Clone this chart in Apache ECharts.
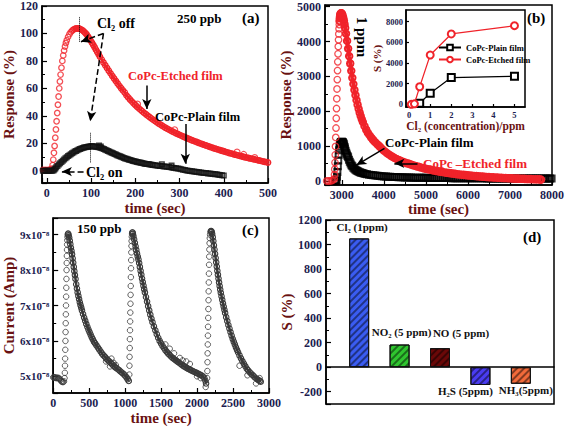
<!DOCTYPE html>
<html><head><meta charset="utf-8">
<script src="https://cdn.jsdelivr.net/npm/echarts@6/dist/echarts.min.js"></script>
<style>html,body{margin:0;padding:0;background:#fff}#c{width:567px;height:427px}</style>
</head><body><div id="c"></div>
<script>
// ---------- DATA ----------
// (a) 250 ppb response (%) vs time (sec)
const aEtchedRise = [[-9,0.5],[-6,0.3],[-3,0.5],[0,0.4],[3,0.5],[6,0.6],[9,0.8],[11,1.5],
[13,4],[14.5,8],[16,13],[17.5,18],[19,24],[20.5,30],[22,36],[23.5,42],[25,48],[26.5,54],[28,60],[29.5,65],[31,70],[33,75],[35,80],[37,84],[39,87.5],[41,90.5],[43,93],[45,95],[48,97.5],[51,99.5],[54,101],[57,102]];
const aEtchedDecay = [[60,102.8],[63,103.3],[66,103.6],[69,103.7],[72,103.6],[75,103.3],[78,102.8],[81,102.2],[84,101.3],[87,100.3],[90,99.2],[93,97.8],[96,96.3],[99,94.8],[102,93.2],[105,91.6],[108,89.9],[111,88.2],[114,86.5],[117,84.8],[120,83.1],[124,80.9],[128,78.8],[132,76.8],[136,74.8],[140,72.8],[144,70.9],[148,69],[152,67.2],[156,65.3],[160,63.5],[164,61.8],[168,60.1],[172,58.5],[176,57],[180,54.9],[184,53.4],[188,51.9],[192,50.5],[196,49.1],[200,47.8],[204,46.6],[208,45.4],[212,44.3],[216,43.2],[220,42.1],[224,41.1],[228,40.1],[232,39.1],[236,38.1],[240,37.2],[244,36.3],[248,35.4],[252,34.5],[256,33.7],[260,32.9],[264,32.1],[268,31.3],[272,30.6],[276,29.9],[280,29.2],[284,28.5],[288,27.9],[292,27.3],[296,26.7],[300,26.1],[304,25.5],[308,24.9],[312,24.3],[316,23.8],[320,23.3],[324,22.7],[328,22.2],[332,21.7],[336,21.2],[340,20.7],[344,20.2],[348,19.7],[352,19.2],[356,18.8],[360,18.3],[364,17.9],[368,17.4],[372,17],[376,16.5],[380,16.1],[384,15.7],[388,15.3],[392,14.9],[396,14.5],[400,14.1],[404,13.7],[408,13.3],[412,12.9],[416,12.6],[420,12.2],[424,11.8],[428,11.5],[432,11.1],[436,10.8],[440,10.5],[444,10.1],[448,9.8],[452,9.5],[456,9.2],[460,8.9],[464,8.6],[468,8.3],[472,8],[476,7.7],[480,7.4],[484,7.1],[488,6.8],[492,6.5],[496,6.2],[500,5.9]];
const aEtchedOutliers = [[205,48.5],[289,29.8],[430,13.5],[445,11.8],[470,9.5]];
const aPlain = [[-9,0],[-6,0],[-3,0],[0,0],[3,0],[6,0],[9,0],[12,0],[15,0.2],[17,0.8],[19,1.6],[21,2.4],[24,3.4],[27,4.4],[30,5.4],[33,6.3],[36,7.2],[39,8.1],[42,9],[45,9.8],[48,10.6],[51,11.3],[54,12],[57,12.7],[60,13.3],[63,13.9],[66,14.4],[69,14.9],[72,15.4],[75,15.8],[78,16.2],[81,16.5],[84,16.8],[87,17.1],[90,17.3],[93,17.5],[96,17.6],[99,17.7],[102,17.7],[105,17.7],[108,17.6],[111,17.5],[114,17.3],[117,17.1],[120,16.8],[123,16.5],[126,16.1],[129,15.7],[132,15.3],[135,14.9],[138,14.4],[141,14],[144,13.5],[147,13.1],[150,12.6],[153,12.2],[156,11.7],[159,11.3],[162,10.9],[165,10.5],[168,10.1],[171,9.7],[174,9.3],[177,8.9],[180,8.6],[183,8.3],[186,8],[189,7.7],[192,7.4],[195,7.1],[198,6.8],[201,6.6],[204,6.3],[207,6.1],[210,5.9],[213,5.7],[216,5.5],[219,5.3],[222,5.1],[225,4.9],[228,4.8],[231,4.6],[234,4.5],[237,4.3],[240,4.2],[244,4],[248,3.8],[252,3.6],[256,3.4],[260,3.3],[264,3.1],[268,3],[272,2.8],[276,2.6],[280,2.4],[284,2.2],[288,2],[292,1.8],[296,1.5],[300,1.3],[304,1],[308,0.7],[312,0.4],[316,0.2],[320,0],[324,-0.2],[328,-0.4],[332,-0.6],[336,-0.8],[340,-1],[344,-1.1],[348,-1.3],[352,-1.5],[356,-1.7],[360,-1.8],[364,-2],[368,-2.1],[372,-2.3],[376,-2.4],[380,-2.6],[384,-2.7],[388,-2.9],[392,-3.1],[396,-3.3],[400,-3.5],
[118,18.3],[122,17.6],[260,4.6],[282,3.8]];

// (b) 1 ppm response (%) vs time (sec)
const bPlain = [[2840,0],[2860,0],[2875,30],[2885,120],[2895,260],[2905,420],[2915,590],[2925,750],[2935,880],[2945,980],[2955,1050],[2965,1090],[2975,1110],[2985,1120],[2995,1125],[3005,1125],[3015,1120],[3025,1110],[3035,1090],[3045,1060],[3055,1020],[3065,975],[3075,930],[3090,870],[3105,810],[3120,760],[3135,718],[3150,680],[3170,610],[3190,550],[3210,500],[3230,455],[3250,420],[3275,380],[3300,350],[3325,325],[3350,303],[3375,284],[3400,268],[3430,252],[3460,238],[3490,226],[3520,215],[3560,203],[3600,193],[3650,182],[3700,172],[3750,163],[3800,155],[3850,148],[3900,142],[3950,136],
[4000,131],[4050,127],[4100,123],[4150,119],[4200,116],[4250,114],[4300,111],[4350,108],[4400,106],[4450,104],[4500,102],[4550,100],[4600,99],[4650,97],[4700,96],[4750,95],[4800,94],[4850,93],[4900,92],[4950,91],[5000,90],[5050,89],[5100,88],[5150,87],[5200,86],[5250,86],[5300,85],[5350,85],[5400,84],[5450,84],[5500,83],[5550,83],[5600,82],[5650,82],[5700,81],[5750,81],[5800,80],[5850,80],[5900,79],[5950,79],[6000,78],[6050,78],[6100,77],[6150,77],[6200,77],[6250,76],[6300,76],[6350,76],[6400,76],[6450,75],[6500,75],[6550,75],[6600,75],[6650,74],[6700,74],[6750,74],[6800,74],[6850,73],[6900,73],[6950,73],[7000,73],[7050,72],[7100,72],[7150,72],[7200,72],[7250,72],[7300,72],[7350,71],[7400,71],[7450,71],[7500,71],[7550,71],[7600,71],[7650,70],[7700,70],[7750,70],[7800,70],[7850,70],[7900,70],[7950,70],[7990,70]];
const bEtchedRise = [[2640,0],[2680,0],[2720,0],[2760,10],[2790,30],[2820,60],[2826,180],[2832,340],[2838,530],[2844,750],[2850,990],[2856,1250],[2862,1520],[2868,1800],[2874,2080],[2880,2360],[2886,2640],[2892,2910],[2898,3170],[2904,3420],[2910,3650],[2916,3860],[2922,4050],[2928,4220],[2934,4370],[2940,4490]];
const bEtchedDecay = [[2946,4590],[2952,4670],[2958,4730],[2964,4770],[2970,4795],[2978,4810],[2986,4815],[2994,4810],[3005,4790],[3020,4745],[3035,4680],[3050,4600],[3065,4500],[3080,4390],[3100,4230],[3125,4020],[3150,3800],[3175,3580],[3200,3370],[3225,3160],[3250,2960],[3275,2780],[3300,2610],[3325,2460],[3350,2320],[3375,2190],[3400,2070],[3425,1960],[3450,1860],[3475,1770],[3500,1690],[3540,1570],[3580,1470],[3620,1380],[3660,1310],[3700,1245],[3740,1185],[3780,1130],[3820,1080],[3860,1035],[3900,990],[3950,930],[4000,870],[4050,822],[4100,778],[4150,737],[4200,700],[4250,665],[4300,633],[4350,603],[4400,576],[4450,552],[4500,530],[4550,510],[4600,490],[4650,470],[4700,450],[4750,432],[4800,415],[4850,398],[4900,382],[4950,367],
[5000,352],[5050,338],[5100,325],[5150,312],[5200,300],[5250,288],[5300,277],[5350,266],[5400,256],[5450,246],[5500,237],[5550,228],[5600,219],[5650,211],[5700,203],[5750,195],[5800,188],[5850,181],[5900,175],[5950,168],[6000,162],[6050,156],[6100,151],[6150,145],[6200,140],[6250,135],[6300,130],[6350,125],[6400,121],[6450,116],[6500,112],[6550,108],[6600,104],[6650,100],[6700,97],[6750,93],[6800,90],[6850,87],[6900,84],[6950,81],[7000,78],[7050,75],[7100,73],[7150,70],[7200,68],[7250,65],[7300,63],[7350,60],[7400,58],[7450,56],[7500,54],[7550,52],[7600,50],[7650,48],[7700,46],[7740,40]];

// (b) inset: S (%) vs Cl2 concentration (ppm)
const insetConc = [0.1, 0.25, 0.5, 1, 2, 5];
const insetPlain = [null, null, 100, 1080, 2590, 2710];
const insetEtched = [0, 50, 1700, 4770, 6810, 7610];

// (c) 150 ppb current (x1e-8 A) vs time (sec)
const cRise = [[0,4.97],[10,4.98],[20,4.96],[30,4.97],[40,4.95],[50,4.96],[60,4.95],[70,4.96],[80,4.94],[90,4.93],[100,4.9],[110,4.87],[120,4.85],[130,4.84],[140,4.84],[150,4.86],[158,4.95],
[162,5.1],[164,5.3],[166,5.5],[168,5.75],[170,6.0],[172,6.25],[174,6.5],[176,6.75],[178,7.0],[180,7.25],[182,7.5],[184,7.75],[186,8.0],[188,8.2],[190,8.4],[192,8.57],[194,8.72],[196,8.84],[199,8.93],[202,8.99],[205,9.02],
[1058,5.05],[1060,5.3],[1062,5.55],[1064,5.8],[1066,6.05],[1068,6.3],[1070,6.55],[1072,6.8],[1074,7.05],[1076,7.3],[1078,7.55],[1080,7.8],[1082,8.05],[1084,8.28],[1086,8.5],[1088,8.68],[1090,8.82],[1093,8.94],[1096,9.02],
[2140,4.95],[2143,5.15],[2145,5.4],[2147,5.65],[2149,5.9],[2151,6.15],[2153,6.4],[2155,6.65],[2157,6.9],[2159,7.15],[2161,7.4],[2163,7.65],[2165,7.9],[2167,8.15],[2169,8.38],[2171,8.58],[2174,8.76],[2177,8.9],[2181,9.0],[2186,9.07],
[575,5.95],[735,5.42],[790,5.28],[810,5.5],[840,5.38],[870,5.32],
[1560,5.9],[1620,5.78],[1680,5.65],[1760,5.52],[1800,5.45],[1850,5.42],[1900,5.35],[2000,5.0],[2050,4.95],[2120,4.7],
[2590,5.3],[2700,5.03],[2820,4.8],[2870,4.95]];
const cDecay1 = [[208,9.03],[215,8.98],[222,8.92],[230,8.83],[238,8.73],[246,8.63],[254,8.54],[262,8.45],[270,8.33],[278,8.21],[286,8.09],[294,7.97],[302,7.86],[310,7.75],[320,7.6],[330,7.48],[340,7.37],[350,7.27],[360,7.18],[370,7.09],[380,7.01],[390,6.94],[400,6.86],[415,6.76],[430,6.66],[445,6.57],[460,6.48],[475,6.4],[490,6.32],[505,6.25],[520,6.18],[535,6.11],[550,6.05],[565,5.99],[580,5.94],[600,5.88],[620,5.82],[640,5.76],[660,5.7],[680,5.64],[700,5.59],[720,5.55],[740,5.5],[760,5.46],[780,5.42],[800,5.38],[820,5.34],[840,5.3],[860,5.26],[880,5.23],[900,5.2],[920,5.17],[940,5.13],[960,5.1],[980,5.06],[1000,5.02],[1020,4.97],[1035,4.92],[1050,4.87]];
const cDecay2 = [[1100,9.06],[1104,9.06],[1108,9.02],[1115,8.96],[1125,8.87],[1135,8.77],[1145,8.67],[1155,8.57],[1165,8.47],[1175,8.38],[1185,8.3],[1195,8.2],[1205,8.09],[1215,7.98],[1225,7.87],[1235,7.76],[1245,7.66],[1255,7.56],[1265,7.46],[1275,7.37],[1290,7.24],[1305,7.11],[1320,6.98],[1335,6.86],[1350,6.74],[1365,6.63],[1380,6.53],[1400,6.41],[1420,6.3],[1440,6.19],[1460,6.09],[1480,6.0],[1500,5.93],[1520,5.86],[1540,5.8],[1560,5.74],[1580,5.69],[1600,5.64],[1620,5.6],[1640,5.56],[1660,5.52],[1680,5.49],[1700,5.46],[1720,5.43],[1740,5.4],[1760,5.37],[1780,5.34],[1800,5.31],[1820,5.28],[1840,5.26],[1860,5.23],[1880,5.21],[1900,5.19],[1920,5.17],[1940,5.15],[1960,5.13],[1980,5.11],[2000,5.09],[2020,5.07],[2040,5.05],[2060,5.03],[2080,5.0],[2100,4.96],[2115,4.88],[2125,4.8]];
const cDecay3 = [[2192,9.1],[2198,9.1],[2204,9.07],[2210,9.02],[2218,8.93],[2226,8.82],[2234,8.7],[2242,8.58],[2250,8.46],[2258,8.34],[2266,8.22],[2274,8.1],[2282,7.98],[2290,7.87],[2298,7.76],[2306,7.65],[2314,7.55],[2322,7.45],[2330,7.36],[2340,7.26],[2350,7.16],[2360,7.06],[2370,6.97],[2380,6.88],[2390,6.79],[2405,6.67],[2420,6.56],[2435,6.45],[2450,6.35],[2465,6.25],[2480,6.15],[2495,6.06],[2510,5.98],[2525,5.9],[2540,5.82],[2555,5.75],[2570,5.68],[2590,5.59],[2610,5.51],[2630,5.43],[2650,5.36],[2670,5.29],[2690,5.22],[2710,5.17],[2730,5.12],[2750,5.08],[2770,5.04],[2790,5.0],[2810,4.96],[2830,4.93],[2850,4.9],[2870,4.87],[2885,4.85]];

// (d) selectivity S (%)
const dGases = ['Cl₂ (1ppm)', 'NO₂ (5 ppm)', 'NO (5 ppm)', 'H₂S (5ppm)', 'NH₃(5ppm)'];
const dPositions = [1, 2, 3, 4, 5];
const dValues = [1050, 185, 155, -145, -135];

// ---------- STYLE ----------
const FONT = '"Liberation Serif","Times New Roman",serif';
const NAVY = '#1d1d50';
const MAROON = '#6a1212';
const RED = '#f0232a';
const GREY = '#3a3a3a';
const dColors = ['#3a5cf2', '#2fc52f', '#6a0808', '#4a3cf2', '#f26a3a'];
const dLabelPos = [['top', 3, -1], ['top', 2, -2], ['top', 21, -5], ['bottom', -15, -4], ['bottom', 5, -4]];
const plainNum = v => String(v);

function vAxis(grid, min, max, split, o) {
  o = o || {};
  return {
    type: 'value', gridIndex: grid, min: min, max: max, splitNumber: split,
    name: o.name || '', nameLocation: 'middle', nameGap: o.nameGap || 20,
    nameTextStyle: { fontFamily: FONT, fontWeight: 'bold', fontSize: o.nameSize || 15, color: MAROON },
    axisLine: { show: true, onZero: !!o.onZero, lineStyle: { color: '#000', width: 1.5 } },
    axisTick: { show: o.noTicks ? false : true, inside: true, length: o.tickLen || 5, lineStyle: { color: '#000', width: 1.2 } },
    minorTick: { show: !o.noMinor && !o.noTicks, splitNumber: 2, length: 3, lineStyle: { color: '#000', width: 1 } },
    splitLine: { show: false },
    axisLabel: { show: !o.noLabels, showMinLabel: o.showMin !== false, showMaxLabel: o.showMax !== false,
      fontFamily: FONT, fontWeight: 'bold', fontSize: o.labelSize || 12, color: NAVY, margin: o.margin || 4,
      formatter: o.formatter || plainNum },
  };
}

const xAxes = [
  vAxis(0, -11, 500, 5, { name: 'time (sec)', nameGap: 17, showMin: false }),
  vAxis(1, 2600, 8000, 5, { name: 'time (sec)', nameGap: 15, showMin: false }),
  vAxis(2, 0, 3000, 6, { name: 'time (sec)', nameGap: 17 }),
  vAxis(3, 0.18, 5.82, 5, { onZero: true, noTicks: true, noLabels: true }),
  vAxis(4, -0.15, 5.5, 5, { name: 'Cl₂ (concentration)/ppm', nameGap: 8, nameSize: 11.5, labelSize: 8.5, margin: 3, tickLen: 3, noMinor: true, showMin: false, showMax: false }),
];
const yAxes = [
  vAxis(0, -9, 120, 6, { name: 'Response (%)', nameGap: 23, showMin: false }),
  vAxis(1, -115, 5050, 5, { name: 'Response (%)', nameGap: 27, showMin: false, showMax: false }),
  vAxis(2, 4.53, 9.47, 5, { name: 'Current (Amp)', nameGap: 33, showMin: false, showMax: false, labelSize: 11,
    formatter: v => Math.round(v) + 'x10⁻⁸' }),
  vAxis(3, -300, 1200, 7, { name: 'S (%)', nameGap: 26, showMin: false }),
  vAxis(4, -260, 9130, 5, { name: 'S (%)', nameGap: 14, nameSize: 11, labelSize: 8.5, margin: 3, tickLen: 3, noMinor: true, showMin: false, showMax: false }),
];

function arrow(p1, p2, dashed, noHead) {
  return [
    { coord: p1, symbol: 'none', lineStyle: { color: '#000', width: dashed === 'dotted' ? 1 : 1.5, type: dashed || 'solid' } },
    { coord: p2, symbol: noHead ? 'none' : 'arrow' }
  ];
}

const hollow = (c, w) => ({ color: 'rgba(255,255,255,0)', borderColor: c, borderWidth: w });
const pts = (ax, data, symbol, size, color, bw, extra) => Object.assign({
  type: 'scatter', xAxisIndex: ax, yAxisIndex: ax, data: data, symbol: symbol, symbolSize: size,
  itemStyle: hollow(color, bw), silent: true }, extra || {});
const band = (ax, data, symbol, size, color, bw, lw, extra) => Object.assign({
  type: 'line', xAxisIndex: ax, yAxisIndex: ax, data: data, symbol: symbol, symbolSize: size, showSymbol: true,
  lineStyle: { color: color, width: lw }, itemStyle: hollow(color, bw), silent: true }, extra || {});

const series = [
  pts(0, aEtchedRise, 'circle', 5.5, RED, 1.3, { z: 3,
    markLine: { silent: true, symbolSize: [7, 10], label: { show: false },
      data: [
        arrow([73, 94], [73, 112], 'dotted', true),
        arrow([97, 6], [97, 28], 'dotted', true),
        arrow([128, 100], [77, 94], 'dashed'),
        arrow([128, 100], [98, 36], 'dashed'),
        arrow([226, 62], [226, 45]),
        arrow([313, 34], [313, 5]),
        arrow([83, -0.7], [34, -0.7], 'dashed'),
      ] } }),
  band(0, aEtchedDecay, 'circle', 5.5, RED, 1.3, 2.5, { z: 3 }),
  pts(0, aEtchedOutliers, 'circle', 6, RED, 1.1, { z: 3 }),
  pts(0, aPlain, 'rect', 4.5, '#111', 1.5, { z: 4 }),
  pts(1, bPlain, 'rect', 6, '#000', 2, { z: 3,
    markLine: { silent: true, symbolSize: [7, 10], label: { show: false },
      data: [ arrow([4015, 937], [3347, 458]), arrow([4800, 507], [4250, 507]) ] } }),
  pts(1, bEtchedRise, 'circle', 6.5, RED, 1.3, { z: 4 }),
  band(1, bEtchedDecay, 'circle', 6.5, RED, 2, 4, { z: 4 }),
  pts(2, cRise, 'circle', 5.5, GREY, 1),
  band(2, cDecay1, 'circle', 5.5, GREY, 1.1, 2.5),
  band(2, cDecay2, 'circle', 5.5, GREY, 1.1, 2.5),
  band(2, cDecay3, 'circle', 5.5, GREY, 1.1, 2.5),
  { type: 'bar', name: 'd', xAxisIndex: 3, yAxisIndex: 3, barWidth: 20, silent: true,
    data: dValues.map((v, i) => ({
      value: [dPositions[i], v],
      itemStyle: { color: dColors[i], borderColor: '#111', borderWidth: 1,
        decal: { symbol: 'rect', symbolSize: 1, dashArrayX: [1, 0], dashArrayY: [1.3, 2.2], rotation: -Math.PI / 4, color: 'rgba(0,0,0,0.45)' } },
      label: { show: true, position: dLabelPos[i][0], offset: [dLabelPos[i][1], dLabelPos[i][2]], formatter: dGases[i],
        fontFamily: FONT, fontWeight: 'bold', fontSize: 11, color: '#111' }
    })) },
  { type: 'line', name: 'CoPc-Plain film', xAxisIndex: 4, yAxisIndex: 4, data: insetConc.map((x, i) => [x, insetPlain[i]]),
    symbol: 'emptyRect', symbolSize: 7, lineStyle: { color: '#000', width: 1.2 }, itemStyle: { color: '#000', borderWidth: 1.3 }, z: 3 },
  { type: 'line', name: 'CoPc-Etched film', xAxisIndex: 4, yAxisIndex: 4, data: insetConc.map((x, i) => [x, insetEtched[i]]),
    symbol: 'emptyCircle', symbolSize: 7, lineStyle: { color: RED, width: 1.2 }, itemStyle: { color: RED, borderWidth: 1.5 }, z: 4 },
];

const T = (text, x, y, size, color, extra) => Object.assign({
  type: 'text', x: x, y: y, z: 100,
  style: { text: text, fill: color || '#000', fontFamily: FONT, fontWeight: 'bold', fontSize: size, textVerticalAlign: 'middle', textAlign: 'left' }
}, extra || {});

const graphic = [
  T('250 ppb', 177, 18, 13),
  T('(a)', 242, 18, 15),
  T('Cl₂ off', 97, 23, 14),
  T('Cl₂ on', 86, 172, 14),
  T('CoPc-Etched film', 128, 76, 12.5, RED),
  T('CoPc-Plain film', 155, 117, 12.5),
  T('1 ppm', 362, 37, 15, '#000', { rotation: -Math.PI / 2, style: { text: '1 ppm', fill: '#000', fontFamily: FONT, fontWeight: 'bold', fontSize: 15, textVerticalAlign: 'middle', textAlign: 'center' } }),
  T('(b)', 527, 18, 15),
  T('CoPc-Plain film', 385, 142, 13),
  T('CoPc –Etched film', 423, 163, 13, RED),
  T('150 ppb', 77, 228, 13),
  T('(c)', 242, 230, 15),
  T('(d)', 523, 237, 15),
];

const grids = [
  { left: 42, top: 5, width: 226, height: 178 },
  { left: 325, top: 5, width: 229, height: 180 },
  { left: 53, top: 218, width: 216, height: 175 },
  { left: 326, top: 220, width: 228, height: 184 },
  { left: 406, top: 10, width: 119, height: 97, backgroundColor: '#fff' },
].map(g => Object.assign({ show: true, borderColor: '#000', borderWidth: 1.5, containLabel: false }, g));

const chart = echarts.init(document.getElementById('c'), null, { renderer: 'svg' });
chart.setOption({
  animation: false,
  backgroundColor: '#fff',
  grid: grids,
  xAxis: xAxes,
  yAxis: yAxes,
  legend: {
    data: ['CoPc-Plain film', 'CoPc-Etched film'], orient: 'vertical', left: 438, top: 43,
    itemWidth: 22, itemHeight: 7, itemGap: 3, selectedMode: false, padding: 0,
    textStyle: { fontFamily: FONT, fontWeight: 'bold', fontSize: 8.5, color: '#000' }
  },
  series: series,
  graphic: graphic,
});
</script></body></html>
